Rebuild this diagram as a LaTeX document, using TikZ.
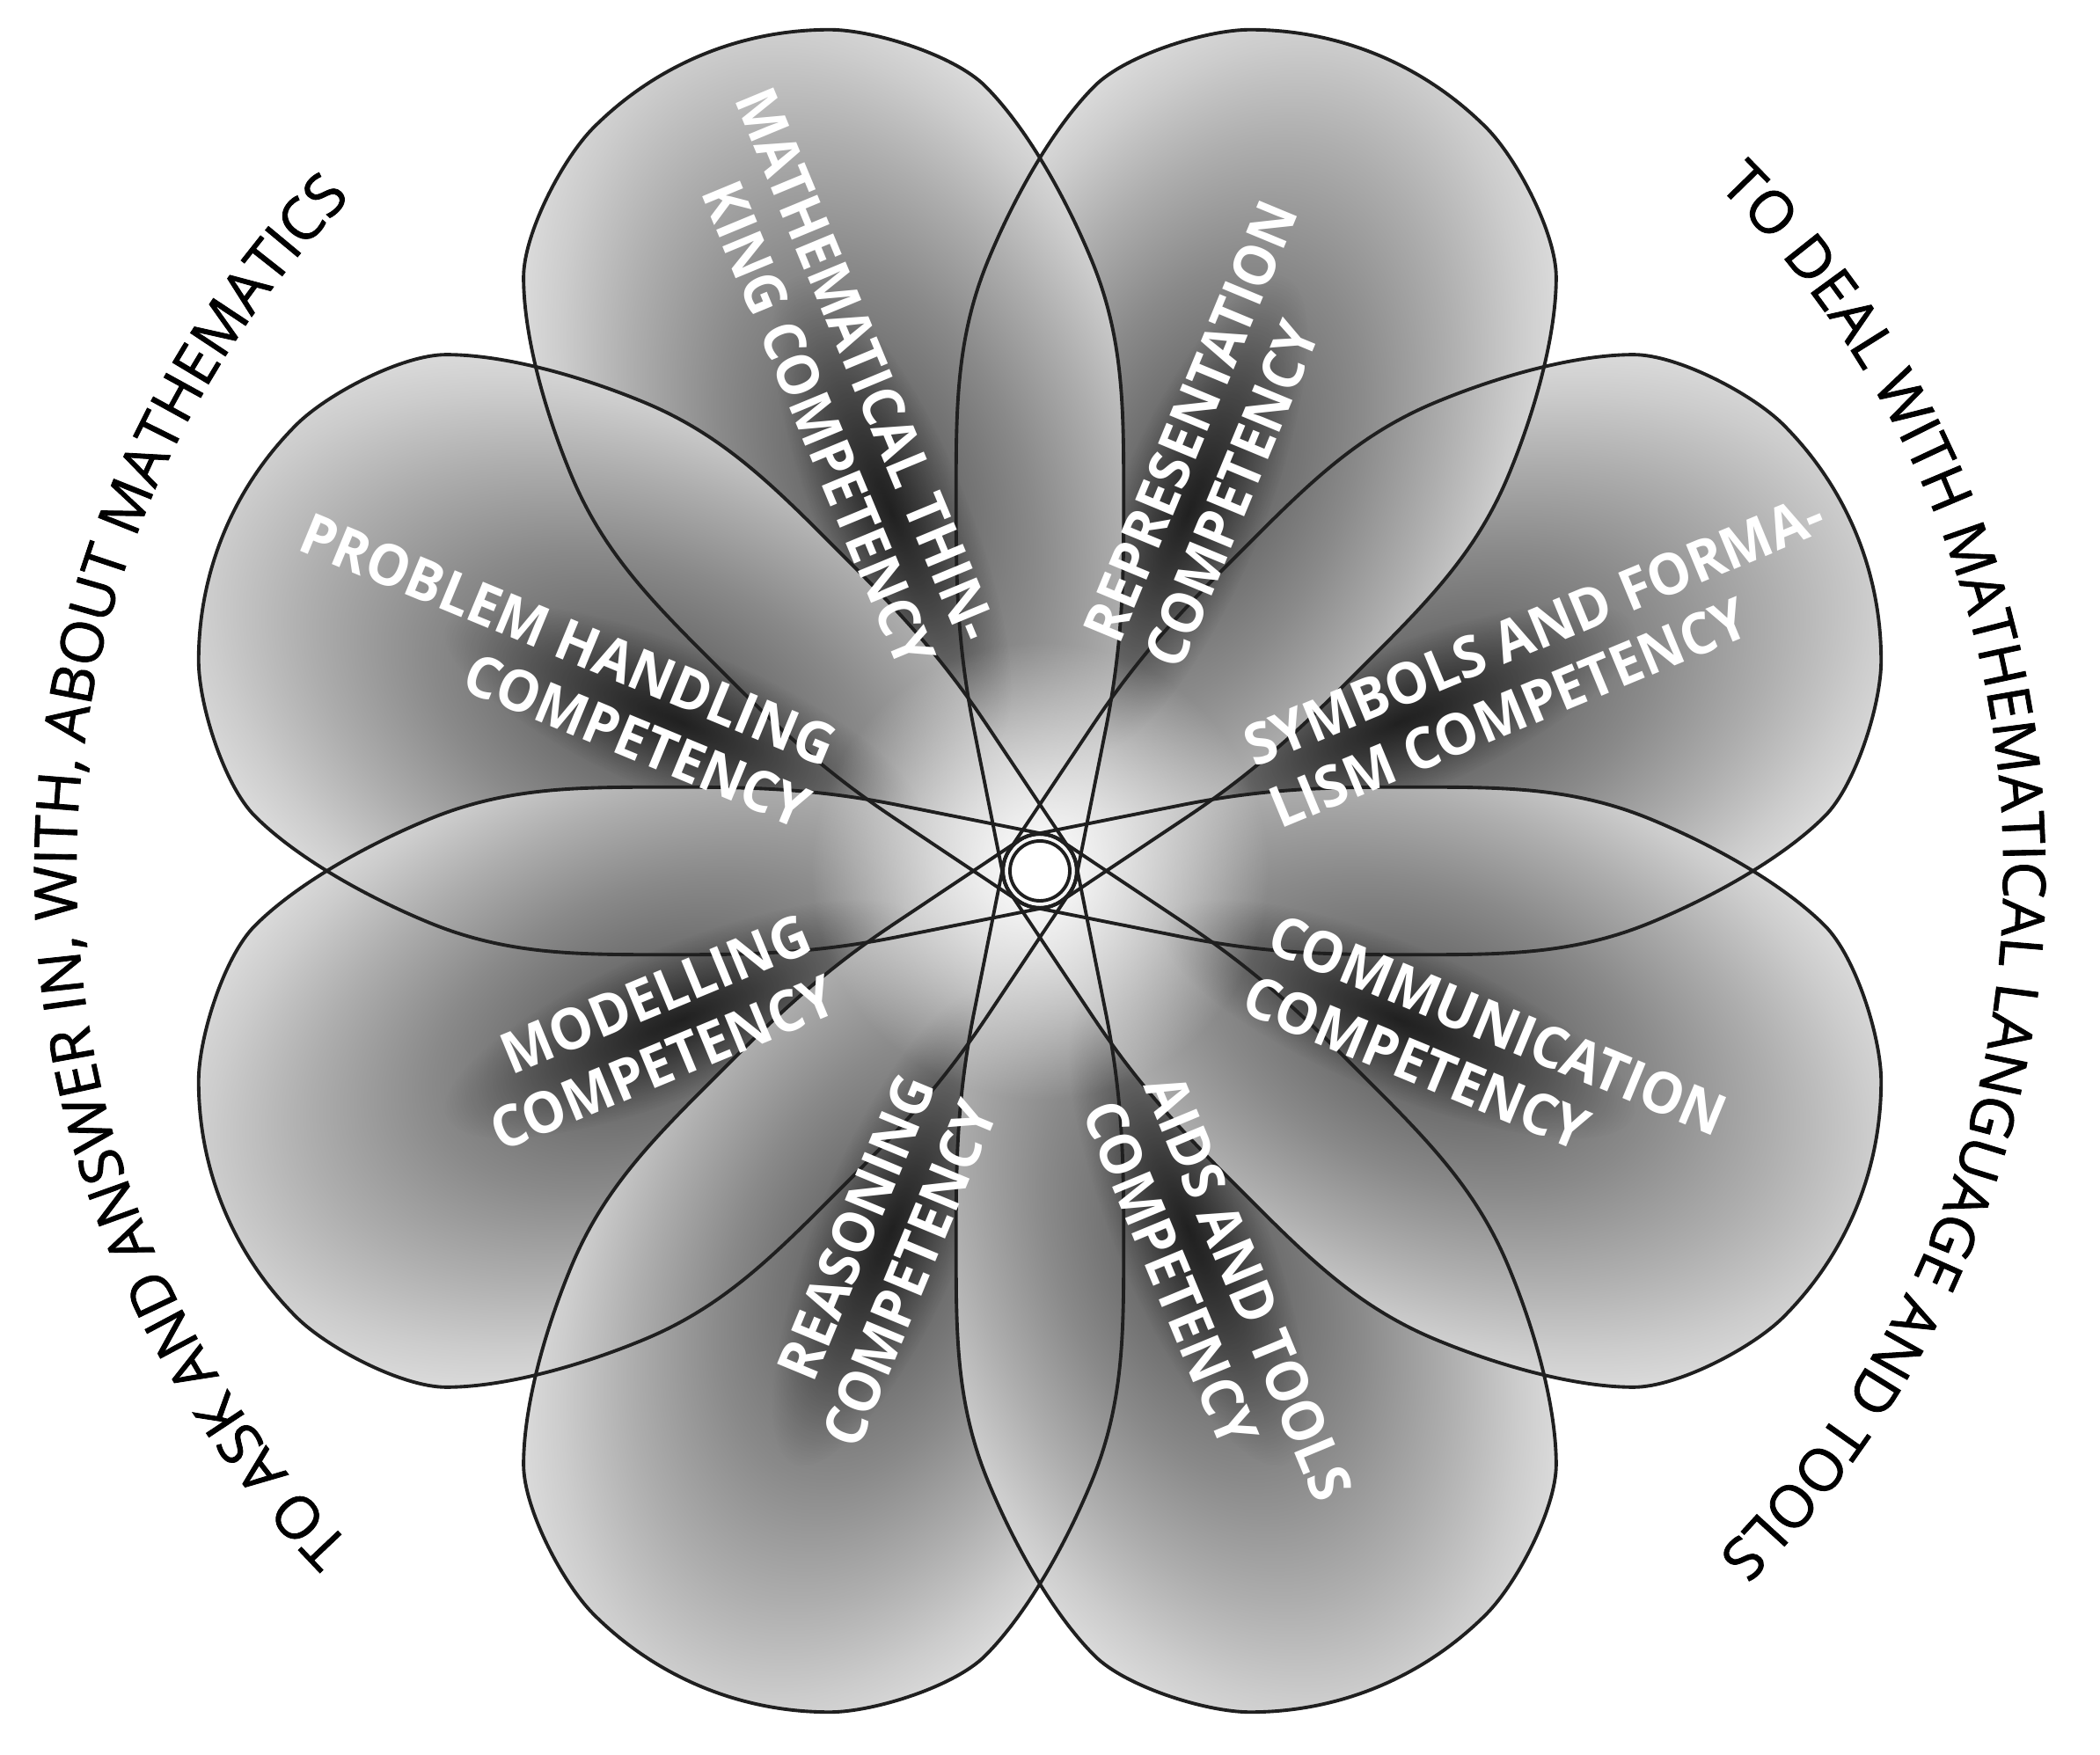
\documentclass[tikz,border=0pt]{standalone}
\usepackage{fontspec}
\usetikzlibrary{decorations.text,fadings}
\newfontfamily\labelfont{Open Sans}[FakeStretch=0.95]
\newfontfamily\curvefont{Open Sans}[FakeBold=1.2]

\pgfdeclareradialshading{pbase}{\pgfpointorigin}{color(0bp)=(black!66); color(5bp)=(black!58); color(11.25bp)=(black!46); color(17.5bp)=(black!32); color(22.5bp)=(black!20); color(25bp)=(black!15); color(50bp)=(black!15)}
\tikzfading[name=fadeout, inner color=transparent!0, outer color=transparent!100]

\newcommand\petalpath{(-0.2334,-0.3492) -- (1.2,-1.307) .. controls (2.0,-1.841) and (2.65,-2.129) .. (3.45,-2.46) .. controls (4.45,-2.874) and (5.2,-3.2) .. (6.2,-3.2) .. controls (7.0,-3.2) and (7.88,-3.088) .. (8.48,-2.84) .. controls (8.94,-2.65) and (9.56,-1.91) .. (9.75,-1.45) .. controls (9.94,-0.99) and (10.04,-0.5) .. (10.04,0) .. controls (10.04,0.5) and (9.94,0.99) .. (9.75,1.45) .. controls (9.56,1.91) and (8.94,2.65) .. (8.48,2.84) .. controls (7.88,3.088) and (7.0,3.2) .. (6.2,3.2) .. controls (5.2,3.2) and (4.45,2.874) .. (3.45,2.46) .. controls (2.65,2.129) and (2.0,1.841) .. (1.2,1.307) -- (-0.2334,0.3492) arc[start angle=123.75, end angle=236.25, radius=0.42] -- cycle}

\tikzset{
  outline/.style={draw=black!88, line width=1.1pt},
  lbl/.style={text=white, font=\labelfont\bfseries\fontsize{18.5}{21.5}\selectfont, inner sep=0pt},
  arctext/.style={decorate, decoration={text along path, text align=center, text={#1}}}
}

\begin{document}
\begin{tikzpicture}
\fill[white] (-11.82,-10.05) rectangle (12.05,9.90);
\useasboundingbox (-11.82,-10.05) rectangle (12.05,9.90);

% petal fills
\foreach \a in {22.5,67.5,...,337.5} {
  \begin{scope}[transform canvas={rotate=\a}]
    \clip \petalpath;
    \fill[black!15] (-1,-4) rectangle (10.5,4);
    \shade[shading=pbase] (4.8,0) ellipse (5.8 and 3.6);
    \fill[black, fill opacity=0.65, path fading=fadeout] (4.4,0) ellipse (2.9 and 0.85);
    \fill[white, path fading=fadeout] (0,0) circle (2.6);
  \end{scope}
}

% petal outlines
\foreach \a in {22.5,67.5,...,337.5} {
  \draw[outline, rotate=\a] \petalpath;
}

% centre
\node[circle, fill=white, draw=black!88, line width=1.1pt, minimum size=0.68cm, inner sep=0pt] (hub) at (0,0) {};

% labels
\node[lbl, anchor=east, align=right, rotate=-67.5] (math) at (112.5:2.7) {MATHEMATICAL THIN-\\KING COMPETENCY};
\node[lbl, anchor=west, align=left, rotate=67.5] (repr) at (67.5:2.7) {REPRESENTATION\\COMPETENCY};
\node[lbl, anchor=west, align=left, rotate=22.5] (symb) at (22.5:2.7) {SYMBOLS AND FORMA-\\LISM COMPETENCY};
\node[lbl, anchor=west, align=left, rotate=-22.5] (comm) at (-22.5:2.7) {COMMUNICATION\\COMPETENCY};
\node[lbl, anchor=west, align=left, rotate=-67.5] (aids) at (-67.5:2.7) {AIDS AND TOOLS\\COMPETENCY};
\node[lbl, anchor=east, align=right, rotate=67.5] (reas) at (247.5:2.7) {REASONING\\COMPETENCY};
\node[lbl, anchor=east, align=right, rotate=22.5] (mode) at (202.5:2.7) {MODELLING\\COMPETENCY};
\node[lbl, anchor=east, align=right, rotate=-22.5] (prob) at (157.5:2.7) {PROBLEM HANDLING\\COMPETENCY};

% curved texts
\path[arctext={|\curvefont\fontsize{19}{22}\selectfont|TO ASK AND ANSWER IN{,} WITH{,} ABOUT MATHEMATICS}]
  (240:10.95) arc[start angle=240, end angle=120, radius=10.95];
\path[arctext={|\curvefont\fontsize{19}{22}\selectfont|TO DEAL WITH MATHEMATICAL LANGUAGE AND TOOLS}]
  (60:10.95) arc[start angle=60, end angle=-60, radius=10.95];
\end{tikzpicture}
\end{document}
